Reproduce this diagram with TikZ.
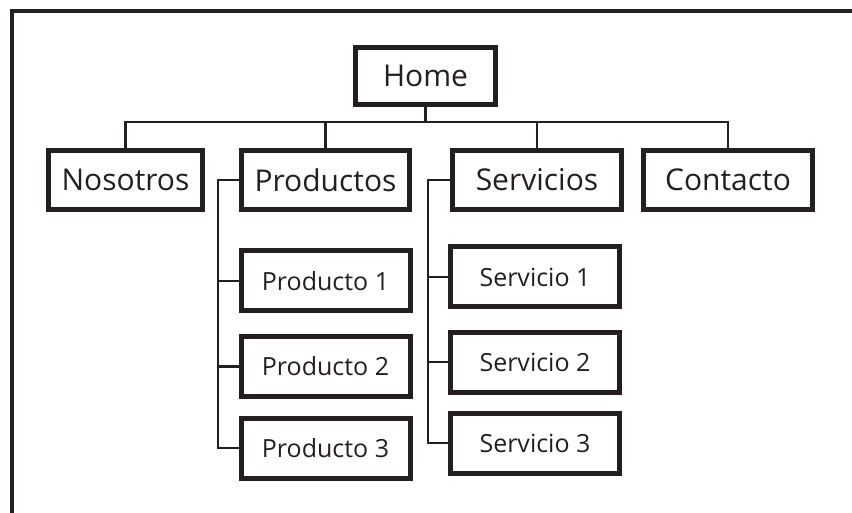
\documentclass[tikz,border=0pt]{standalone}
\usepackage{fontspec}
\setmainfont{Open Sans}
\usepackage{tikz}
\definecolor{ink}{HTML}{231F20}

\begin{document}
\begin{tikzpicture}[x=1pt,y=-1pt,
  box/.style={draw=ink,line width=5pt,inner sep=0pt,minimum height=59pt,text=ink,font=\fontsize{30}{32}\selectfont},
  subbox/.style={box,minimum width=169pt,minimum height=60pt,font=\fontsize{25}{27}\selectfont},
  link/.style={draw=ink,line width=2.6pt}]
\useasboundingbox (0,0) rectangle (852,513);
% outer frame
\draw[ink,line width=4pt] (12,513) -- (12,11.5) -- (852,11.5);
% top level
\node[box,minimum width=140pt,minimum height=57pt] (home) at (425.5,76) {Home};
\node[box,minimum width=154pt] (nosotros) at (125.5,180) {Nosotros};
\node[box,minimum width=168pt] (productos) at (325.5,180) {Productos};
\node[box,minimum width=169pt] (servicios) at (537,180) {Servicios};
\node[box,minimum width=169pt] (contacto) at (728,180) {Contacto};
% sub pages
\node[subbox] (producto1) at (325.5,281) {Producto 1};
\node[subbox] (producto2) at (325.5,366.5) {Producto 2};
\node[subbox] (producto3) at (325.5,448) {Producto 3};
\node[subbox] (servicio1) at (535,277) {Servicio 1};
\node[subbox] (servicio2) at (535,362) {Servicio 2};
\node[subbox] (servicio3) at (535,443) {Servicio 3};
% connectors
\coordinate (bus) at (425.5,122);
\coordinate (pbar) at (218,0);
\coordinate (sbar) at (428,0);
\draw[link] (home.south) -- (bus);
\foreach \n in {nosotros,productos,servicios,contacto} \draw[link] (bus) -| (\n.north);
\foreach \i in {1,2,3} {
  \draw[link] (productos.west) -| (pbar |- producto\i.west) -- (producto\i.west);
  \draw[link] (servicios.west) -| (sbar |- servicio\i.west) -- (servicio\i.west);
}
\end{tikzpicture}
\end{document}
